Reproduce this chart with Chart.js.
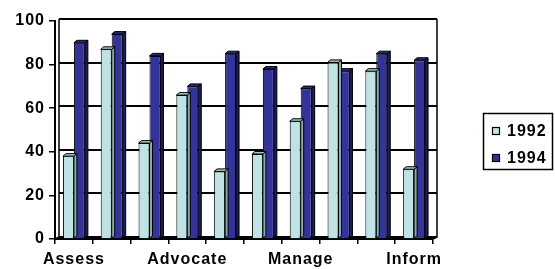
<!DOCTYPE html>
<html>
<head>
<meta charset="utf-8">
<script src="https://cdn.jsdelivr.net/npm/chart.js@4/dist/chart.umd.min.js"></script>
<style>
  body { margin: 0; background: #fff; }
  canvas { display: block; }
</style>
</head>
<body>
<canvas id="chart" width="555" height="269"></canvas>
<script>
// category labels (Excel only printed every third one)
var categories = ['Assess', '', '', 'Advocate', '', '', 'Manage', '', '', 'Inform'];
var seriesNames = ['1992', '1994'];
var values1992 = [38, 87, 44, 66, 31, 39, 54, 81, 77, 32];
var values1994 = [90, 94, 84, 70, 85, 78, 69, 77, 85, 82];
var yTicks = [0, 20, 40, 60, 80, 100];

var FONT = '"Liberation Sans", Arial, sans-serif';
var faceColors = ['#bfe3e4', '#333399'];
var topColors = ['#a3cbcc', '#28287d'];
var sideColors = ['#86acad', '#1c1c5e'];

// back wall / 3d look
var wallPlugin = {
    id: 'wall',
    beforeDraw: function (chart) {
        chart.ctx.letterSpacing = '1px';
    },
    beforeDatasetsDraw: function (chart) {
        var ctx = chart.ctx;
        var a = chart.chartArea;
        var y = chart.scales.y;
        var dx = 4, dy = 2;
        ctx.save();
        ctx.strokeStyle = '#000';
        ctx.lineWidth = 2;
        yTicks.forEach(function (v) {
            var py = Math.round(y.getPixelForValue(v)) - dy;
            ctx.beginPath();
            ctx.moveTo(a.left + dx, py);
            ctx.lineTo(a.right + dx, py);
            ctx.stroke();
        });
        ctx.lineWidth = 1.5;
        ctx.beginPath();
        ctx.moveTo(a.left + dx, a.bottom - dy);
        ctx.lineTo(a.left + dx, a.top - dy);
        ctx.moveTo(a.right + dx, a.top - dy);
        ctx.lineTo(a.right + dx, a.bottom - dy);
        ctx.lineTo(a.right, a.bottom);
        ctx.moveTo(a.left, a.bottom);
        ctx.lineTo(a.left + dx, a.bottom - dy);
        ctx.stroke();
        ctx.restore();
    },
    afterDatasetDraw: function (chart, args) {
        var ctx = chart.ctx;
        var i = args.index;
        var dx = 3, dy = 2.5;
        ctx.save();
        ctx.strokeStyle = '#000';
        ctx.lineWidth = 1;
        ctx.lineJoin = 'round';
        args.meta.data.forEach(function (bar) {
            var p = bar.getProps(['x', 'y', 'base', 'width'], true);
            var l = p.x - p.width / 2, r = p.x + p.width / 2;
            // side
            ctx.beginPath();
            ctx.moveTo(r, p.y);
            ctx.lineTo(r + dx, p.y - dy);
            ctx.lineTo(r + dx, p.base - dy);
            ctx.lineTo(r, p.base);
            ctx.closePath();
            ctx.fillStyle = sideColors[i];
            ctx.fill();
            ctx.stroke();
            // top
            ctx.beginPath();
            ctx.moveTo(l, p.y);
            ctx.lineTo(l + dx, p.y - dy);
            ctx.lineTo(r + dx, p.y - dy);
            ctx.lineTo(r, p.y);
            ctx.closePath();
            ctx.fillStyle = topColors[i];
            ctx.fill();
            ctx.stroke();
        });
        ctx.restore();
    },
    afterDraw: function (chart) {
        // boxed legend on the right (no white fill, the area is empty anyway)
        var ctx = chart.ctx;
        ctx.save();
        ctx.strokeStyle = '#000';
        ctx.lineWidth = 1.5;
        ctx.strokeRect(483.5, 113.5, 69, 56);
        ctx.textBaseline = 'middle';
        ctx.textAlign = 'left';
        chart.data.datasets.forEach(function (ds, i) {
            var cy = 131 + i * 27;
            ctx.fillStyle = faceColors[i];
            ctx.fillRect(492, cy - 4, 8, 8);
            ctx.lineWidth = 1.2;
            ctx.strokeRect(492.5, cy - 3.5, 7, 7);
            ctx.fillStyle = '#000';
            ctx.font = 'bold 16px ' + FONT;
            ctx.fillText(ds.label, 507, cy + 1);
        });
        ctx.restore();
    }
};

new Chart(document.getElementById('chart'), {
    type: 'bar',
    data: {
        labels: categories,
        datasets: [
            {
                label: seriesNames[0],
                data: values1992,
                backgroundColor: faceColors[0],
                borderColor: '#000',
                borderWidth: 1
            },
            {
                label: seriesNames[1],
                data: values1994,
                backgroundColor: faceColors[1],
                borderColor: '#000',
                borderWidth: 1
            }
        ]
    },
    options: {
        responsive: false,
        devicePixelRatio: 1,
        animation: false,
        datasets: { bar: { categoryPercentage: 0.58, barPercentage: 1 } },
        layout: { padding: { top: 21, right: 122, left: 0, bottom: 0 } },
        plugins: { legend: { display: false }, tooltip: { enabled: false } },
        scales: {
            x: {
                grid: { drawOnChartArea: false, tickLength: 5, color: '#000', lineWidth: 1.5, offset: true },
                border: { display: true, color: '#000', width: 2 },
                ticks: { autoSkip: false, maxRotation: 0, color: '#000', padding: 6, font: { family: FONT, size: 16, weight: 'bold' } },
                afterFit: function (s) { s.height = 30; }
            },
            y: {
                min: 0,
                max: 100,
                afterBuildTicks: function (s) { s.ticks = yTicks.map(function (v) { return { value: v }; }); },
                grid: { drawOnChartArea: false, tickLength: 6, color: '#000', lineWidth: 1.5 },
                border: { display: true, color: '#000', width: 2 },
                ticks: { color: '#000', padding: 4, font: { family: FONT, size: 16, weight: 'bold' } },
                afterFit: function (s) { s.width = 55; }
            }
        }
    },
    plugins: [wallPlugin]
});
</script>
</body>
</html>
